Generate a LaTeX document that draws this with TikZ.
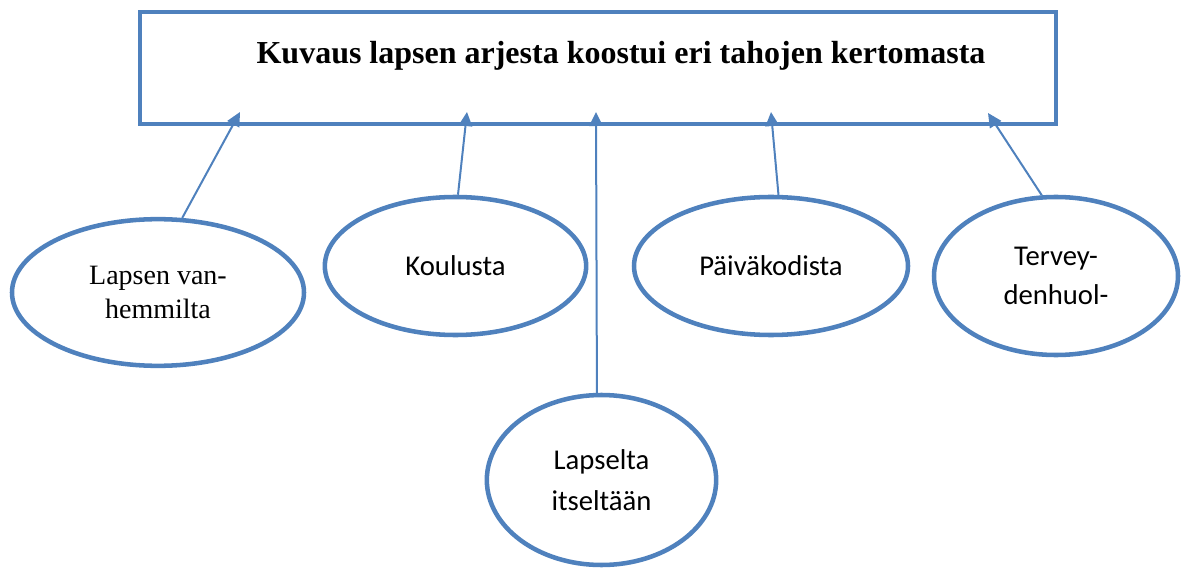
\documentclass[tikz,border=0pt]{standalone}
\usepackage{fontspec}
\setmainfont{Liberation Serif}
\newfontfamily\carlito{Carlito}
\usetikzlibrary{arrows.meta,shapes.geometric}
\definecolor{wordblue}{RGB}{79,129,189}
\begin{document}
\begin{tikzpicture}[x=0.75pt,y=-0.75pt,
  oval/.style={ellipse,draw=wordblue,line width=3.4pt,inner sep=0pt,align=center},
  feed/.style={draw=wordblue,line width=1.5pt,-{Triangle[length=10.5pt,width=10pt]}}]
  \useasboundingbox (0,0) rectangle (1181,570);
  % otsikkolaatikko
  \node[draw=wordblue,line width=3.4pt,inner sep=0pt,minimum width=687pt,minimum height=84pt] (kuvaus) at (598,68) {};
  \node[font=\fontsize{24}{28}\selectfont\bfseries] (otsikko) at (621,56) {Kuvaus lapsen arjesta koostui eri tahojen kertomasta};
  % tahot
  \node[oval,minimum width=219pt,minimum height=110pt,font=\fontsize{21}{25.5}\selectfont] (vanhemmat) at (158,292.5) {Lapsen van-\\hemmilta};
  \node[oval,minimum width=196pt,minimum height=103.5pt,font=\carlito\fontsize{21.5}{29}\selectfont] (koulu) at (455.5,266) {Koulusta};
  \node[oval,minimum width=205.5pt,minimum height=103.5pt,font=\carlito\fontsize{21.5}{29}\selectfont] (paivakoti) at (771,266) {Päiväkodista};
  \node[oval,minimum width=183pt,minimum height=118.5pt,font=\carlito\fontsize{21.5}{29}\selectfont] (terveys) at (1056,276) {Tervey-\\denhuol-};
  \node[oval,minimum width=172pt,minimum height=127.5pt,font=\carlito\fontsize{21.5}{31}\selectfont] (lapsi) at (601.5,480) {Lapselta\\itseltään};
  % nuolten kärjet
  \coordinate (k1) at (240,112);
  \coordinate (k2) at (467,112);
  \coordinate (k3) at (596,112);
  \coordinate (k4) at (771,112);
  \coordinate (k5) at (988,113);
  \draw[feed] (vanhemmat.72) -- (k1);
  \draw[feed] (koulu.88) -- (k2);
  \draw[feed] (lapsi.93) -- (k3);
  \draw[feed] (paivakoti.84) -- (k4);
  \draw[feed] (terveys.100) -- (k5);
\end{tikzpicture}
\end{document}
